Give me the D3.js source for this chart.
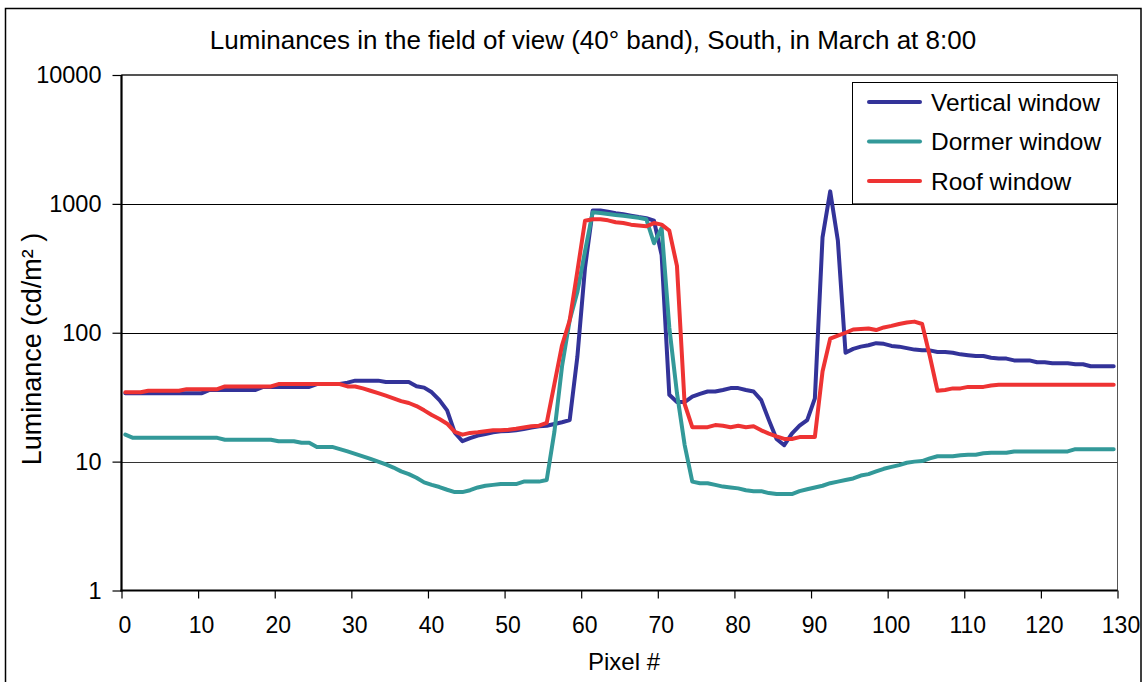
<!DOCTYPE html>
<html>
<head>
<meta charset="utf-8">
<script src="https://cdn.jsdelivr.net/npm/d3@7"></script>
<style>
  html, body { margin: 0; padding: 0; background: #fff; }
  svg { display: block; }
  text { font-family: "Liberation Sans", Arial, sans-serif; fill: #000; }
</style>
</head>
<body>
<svg id="chart" width="1148" height="682"></svg>
<script>
// ---------------- DATA ----------------
const titleText = "Luminances in the field of view (40° band), South, in March at 8:00";
const xAxisTitle = "Pixel #";
const yAxisTitle = "Luminance (cd/m² )";
const seriesNames = ["Vertical window", "Dormer window", "Roof window"];
const seriesColors = ["#333399", "#339999", "#ee3333"];
const xTickValues = [0, 10, 20, 30, 40, 50, 60, 70, 80, 90, 100, 110, 120, 130];
const yTickValues = [1, 10, 100, 1000, 10000];

const verticalWindow = [
  34, 34, 34, 34, 34, 34, 34, 34, 34, 34,
  34, 36, 36, 36, 36, 36, 36, 36, 38, 38,
  38, 38, 38, 38, 38, 40, 40, 40, 40, 41,
  42.5, 42.5, 42.5, 42.5, 41.5, 41.5, 41.5, 41.5, 38.5, 37.5,
  34.5, 30, 25, 16.8, 14.4, 15.2, 15.9, 16.4, 16.9, 17.2,
  17.3, 17.5, 17.9, 18.4, 18.8, 19, 19.6, 20.2, 21, 65,
  320, 890, 890, 870, 845, 830, 810, 790, 775, 740,
  400, 33, 29, 29, 32, 33.6, 35, 35, 36, 37.2,
  37.2, 36, 35, 30, 21, 15, 13.4, 16.5, 19, 21,
  31, 550, 1250, 520, 70, 75, 78, 80, 83, 82,
  79, 78, 76, 74, 73, 73, 71, 71, 70, 68,
  67, 66, 66, 64, 63, 63, 61, 61, 61, 59,
  59, 58, 58, 58, 57, 57, 55, 55, 55, 55
];
const dormerWindow = [
  16.2, 15.3, 15.3, 15.3, 15.3, 15.3, 15.3, 15.3, 15.3, 15.3,
  15.3, 15.3, 15.3, 14.8, 14.8, 14.8, 14.8, 14.8, 14.8, 14.8,
  14.4, 14.4, 14.4, 14.0, 14.0, 13.0, 13.0, 13.0, 12.5, 12.0,
  11.5, 11.0, 10.5, 10.0, 9.5, 9.0, 8.4, 8.0, 7.5, 6.9,
  6.6, 6.35, 6.05, 5.8, 5.8, 6.0, 6.3, 6.5, 6.6, 6.7,
  6.7, 6.7, 7.0, 7.0, 7.0, 7.2, 17, 55, 125, 207,
  430, 860, 850, 835, 820, 810, 795, 780, 760, 495,
  650, 110, 34, 13.5, 7.0, 6.8, 6.8, 6.6, 6.4, 6.3,
  6.2, 6.0, 5.9, 5.9, 5.7, 5.6, 5.6, 5.6, 5.9, 6.1,
  6.3, 6.5, 6.8, 7.0, 7.2, 7.4, 7.8, 8.0, 8.4, 8.8,
  9.1, 9.4, 9.8, 10.0, 10.1, 10.6, 11.0, 11.0, 11.0, 11.2,
  11.3, 11.3, 11.6, 11.7, 11.7, 11.7, 12.0, 12.0, 12.0, 12.0,
  12.0, 12.0, 12.0, 12.0, 12.5, 12.5, 12.5, 12.5, 12.5, 12.5
];
const roofWindow = [
  34.5, 34.5, 34.5, 35.5, 35.5, 35.5, 35.5, 35.5, 36.5, 36.5,
  36.5, 36.5, 36.5, 38.3, 38.3, 38.3, 38.3, 38.3, 38.3, 38.3,
  40, 40, 40, 40, 40, 40, 40, 40, 40, 38.3,
  38.3, 37, 35.5, 34, 32.5, 31, 29.5, 28.5, 27, 25,
  23, 21.4, 19.7, 17, 16.2, 16.7, 16.9, 17.2, 17.5, 17.5,
  17.7, 18, 18.4, 18.8, 19, 20, 40, 80, 125, 300,
  740, 760, 760, 745, 720, 710, 690, 680, 670, 710,
  690, 620, 330, 28, 18.5, 18.5, 18.5, 19.2, 19, 18.5,
  19, 18.5, 18.8, 17.5, 16.5, 15.7, 15, 15, 15.5, 15.5,
  15.5, 50, 90, 95, 100, 106, 107, 108, 105, 110,
  113, 117, 120, 122, 117, 66, 35.5, 36, 37, 37,
  38, 38, 38, 39, 39.5, 39.5, 39.5, 39.5, 39.5, 39.5,
  39.5, 39.5, 39.5, 39.5, 39.5, 39.5, 39.5, 39.5, 39.5, 39.5
];
const pixels = d3.range(verticalWindow.length);

// ---------------- LAYOUT ----------------
const svg = d3.select("#chart");
const plot = { left: 121.5, right: 1117.5, top: 75, bottom: 590.5 };

const x = d3.scaleLinear().domain([0, 130]).range([plot.left, plot.right]);
const y = d3.scaleLog().domain([1, 10000]).range([plot.bottom, plot.top]);

// outer frame
svg.append("rect")
  .attr("x", 5.5).attr("y", 8.5).attr("width", 1135.5).attr("height", 700)
  .attr("fill", "#fff").attr("stroke", "#000").attr("stroke-width", 1.5);

// plot-area frame
svg.append("rect")
  .attr("x", plot.left).attr("y", plot.top)
  .attr("width", plot.right - plot.left).attr("height", plot.bottom - plot.top)
  .attr("fill", "none").attr("stroke", "#555").attr("stroke-width", 1);

// gridlines
svg.append("g").selectAll("line")
  .data(yTickValues.filter(v => v > 1 && v < 10000))
  .join("line")
  .attr("x1", plot.left).attr("x2", plot.right)
  .attr("y1", d => Math.round(y(d)) + 0.5).attr("y2", d => Math.round(y(d)) + 0.5)
  .attr("stroke", d => d === 10 ? "#333" : "#000").attr("stroke-width", 1);
svg.append("line")
  .attr("x1", plot.left).attr("x2", plot.right)
  .attr("y1", plot.top).attr("y2", plot.top)
  .attr("stroke", "#000").attr("stroke-width", 1.2);

// axes
const yAxis = d3.axisLeft(y).tickValues(yTickValues).tickFormat(d3.format("d"))
  .tickSize(9).tickPadding(11);
const gy = svg.append("g").attr("transform", `translate(${plot.left},0)`).call(yAxis);
gy.select(".domain").attr("stroke", "#000").attr("stroke-width", 2.2)
  .attr("d", `M0,${plot.top}V${plot.bottom + 1}`);
gy.selectAll(".tick line").attr("stroke", "#000").attr("stroke-width", 1.2);
gy.selectAll(".tick text").style("font-size", "23.5px").attr("fill", "#000");

const xAxis = d3.axisBottom(x).tickValues(xTickValues).tickFormat(d3.format("d"))
  .tickSize(8).tickPadding(18);
const gx = svg.append("g").attr("transform", `translate(0,${plot.bottom})`).call(xAxis);
gx.select(".domain").attr("stroke", "#000").attr("stroke-width", 2.2)
  .attr("d", `M${plot.left - 1},0H${plot.right}`);
gx.selectAll(".tick line").attr("stroke", "#000").attr("stroke-width", 1.2);
gx.selectAll(".tick text").style("font-size", "23px").attr("fill", "#000").attr("dx", 3);

// series lines
const series = [verticalWindow, dormerWindow, roofWindow];
const line = d3.line()
  .x((d, i) => x(pixels[i] + 0.5))
  .y(d => y(d));
const gl = svg.append("g");
series.forEach((vals, k) => {
  gl.append("path")
    .datum(vals)
    .attr("d", line)
    .attr("fill", "none")
    .attr("stroke", seriesColors[k])
    .attr("stroke-width", 4)
    .attr("stroke-linejoin", "round")
    .attr("stroke-linecap", "round");
});

// legend
const lg = svg.append("g");
lg.append("rect")
  .attr("x", 852.5).attr("y", 82.5).attr("width", plot.right - 852.5).attr("height", y(1000) - 82.5)
  .attr("fill", "#fff").attr("stroke", "#000").attr("stroke-width", 1);
seriesNames.forEach((name, k) => {
  const cy = 102 + k * 39.5;
  lg.append("line").attr("x1", 869).attr("x2", 920).attr("y1", cy).attr("y2", cy)
    .attr("stroke", seriesColors[k]).attr("stroke-width", 4).attr("stroke-linecap", "round");
  lg.append("text").attr("x", 931).attr("y", cy + 8.5).style("font-size", "24.5px").text(name);
});

// titles
svg.append("text").attr("x", 593).attr("y", 49).attr("text-anchor", "middle")
  .style("font-size", "26px").text(titleText);
svg.append("text").attr("x", 624).attr("y", 670).attr("text-anchor", "middle")
  .style("font-size", "24px").text(xAxisTitle);
svg.append("text").attr("transform", `translate(41,349) rotate(-90)`)
  .attr("text-anchor", "middle").style("font-size", "27px").text(yAxisTitle);
</script>
</body>
</html>
